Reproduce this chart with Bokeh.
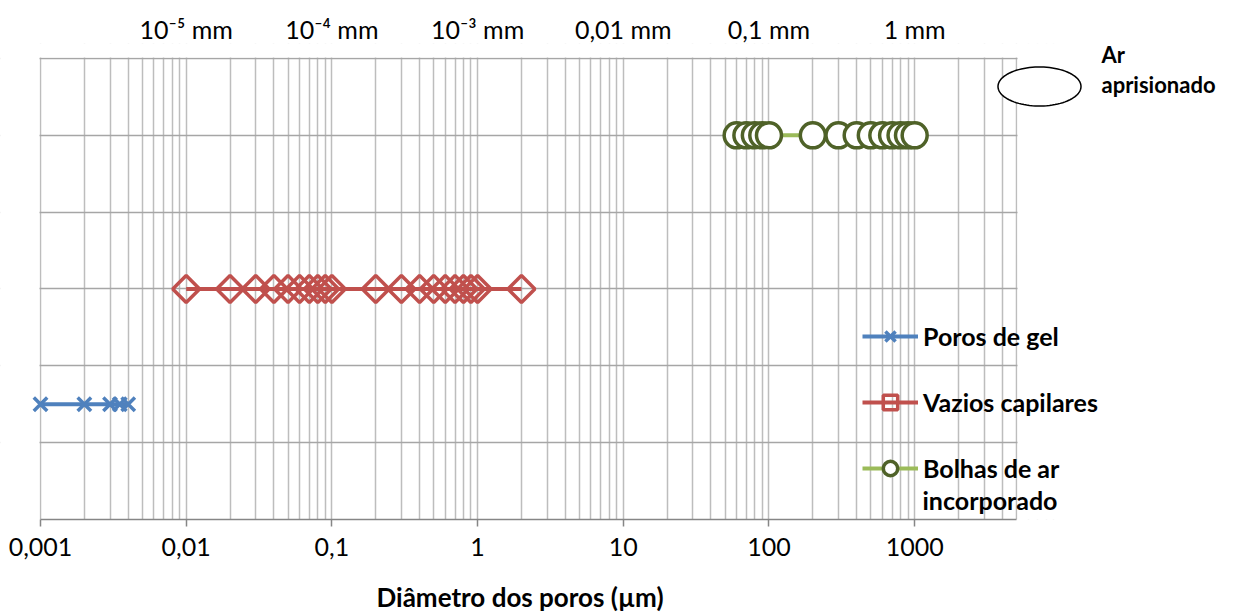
import numpy as np
from bokeh.plotting import figure
from bokeh.models import (LogAxis, FixedTicker, Legend, LegendItem, Label, Title,
                          PolyAnnotation, BoxAnnotation, Range1d)
from bokeh.embed import file_html
from bokeh.resources import INLINE

# ---- data ----
gel_x = [0.001, 0.002, 0.003, 0.0035, 0.004]
gel_y = [1.5, 1.5, 1.5, 1.5, 1.5]

cap_x = [0.01, 0.02, 0.03, 0.04, 0.05, 0.06, 0.07, 0.08, 0.09, 0.1,
         0.2, 0.3, 0.4, 0.5, 0.6, 0.7, 0.8, 0.9, 1, 2]
cap_y = [3] * len(cap_x)

bub_x = [60, 70, 80, 90, 100, 200, 300, 400, 500, 600, 700, 800, 900, 1000]
bub_y = [5] * len(bub_x)

series_names = ["Poros de gel", "Vazios capilares", "Bolhas de ar"]
bottom_ticks = [0.001, 0.01, 0.1, 1, 10, 100, 1000]
bottom_labels = ["0,001", "0,01", "0,1", "1", "10", "100", "1000"]
top_ticks = [0.01, 0.1, 1, 10, 100, 1000]
top_labels = ["10\u207b\u2075 mm", "10\u207b\u2074 mm", "10\u207b\u00b3 mm",
              "0,01 mm", "0,1 mm", "1 mm"]
y_grid = [0, 1, 2, 3, 4, 5, 6]
minor = [m * 10.0 ** e for e in range(-3, 4) for m in range(2, 10)]
X_MIN, X_MAX = 0.001, 5000          # plot-area extent
Y_MIN, Y_MAX = 0, 6

FONT = "Lato"
FS = "25px"
FSB = "26px"
FSL = "25px"

# layout: plot area spans pixels x 40..1016, y 58..520; the drawing frame is
# widened so that markers, legend and notes are not clipped at its edges
DEC = 145.7                                   # pixels per decade
UNIT = 77.0                                   # pixels per y unit
x_start = X_MIN * 10 ** (-40 / DEC)
x_end = X_MAX * 10 ** (217 / DEC)
y_end = Y_MAX + 15 / UNIT

p = figure(width=1233, height=612, x_axis_type="log",
           x_range=Range1d(x_start, x_end), y_range=Range1d(Y_MIN, y_end),
           output_backend="svg", toolbar_location=None,
           min_border_left=0, min_border_right=0,
           min_border_top=43, min_border_bottom=92)
p.outline_line_color = None
p.background_fill_color = "white"
p.border_fill_color = "white"
p.yaxis.visible = False

ax = p.xaxis[0]
ax.bounds = (X_MIN, X_MAX)
ax.ticker = FixedTicker(ticks=bottom_ticks, minor_ticks=minor)
ax.major_label_overrides = {t: l for t, l in zip(bottom_ticks, bottom_labels)}
ax.axis_line_color = "#868686"
ax.axis_line_width = 1.5
ax.major_tick_line_color = "#868686"
ax.major_tick_line_width = 1.5
ax.major_tick_out = 7
ax.major_tick_in = 0
ax.minor_tick_out = 0
ax.minor_tick_in = 0
ax.major_label_standoff = 11
ax.major_label_text_font = FONT
ax.major_label_text_font_size = FS
ax.major_label_text_color = "black"

# invisible spacer axis (one hidden tick, no line, empty label) to push the title down
spacer = LogAxis(ticker=FixedTicker(ticks=[X_MIN], minor_ticks=[]), bounds=(X_MIN, X_MAX),
                 axis_line_color=None, major_tick_out=20, major_tick_in=0,
                 minor_tick_out=0, minor_tick_in=0, major_tick_line_color=None,
                 major_label_overrides={X_MIN: ""}, major_label_standoff=0,
                 major_label_text_font_size="1px")
p.add_layout(spacer, "below")

p.add_layout(Title(text="Diâmetro dos poros (µm)", align="left", offset=376,
                   standoff=0, vertical_align="bottom",
                   text_font=FONT, text_font_style="bold",
                   text_font_size=FSB, text_color="black"), "below")

top = LogAxis(ticker=FixedTicker(ticks=top_ticks, minor_ticks=[]),
              bounds=(X_MIN, X_MAX),
              major_label_overrides={t: l for t, l in zip(top_ticks, top_labels)},
              axis_line_color=None,
              major_tick_out=0, major_tick_in=0, minor_tick_out=0, minor_tick_in=0,
              major_label_standoff=0,
              major_label_text_font=FONT, major_label_text_font_size=FS,
              major_label_text_color="black")
p.add_layout(top, "above")

p.xgrid.grid_line_color = "#BDBDBD"
p.xgrid.grid_line_width = 1.5
p.xgrid.minor_grid_line_color = "#BDBDBD"
p.xgrid.minor_grid_line_width = 1.5
p.ygrid.ticker = FixedTicker(ticks=y_grid)
p.ygrid.grid_line_color = "#A6A6A6"
p.ygrid.grid_line_width = 1.5

# white masks outside the plot area (hide grid lines there)
mask = dict(fill_color="white", fill_alpha=1, line_alpha=0, level="underlay")
p.add_layout(BoxAnnotation(left=x_start / 2, right=X_MIN * 10 ** (-1 / DEC),
                           bottom=-1, top=y_end + 1, **mask))
p.add_layout(BoxAnnotation(left=X_MAX * 10 ** (1 / DEC), right=x_end * 2,
                           bottom=-1, top=y_end + 1, **mask))
p.add_layout(BoxAnnotation(left=x_start / 2, right=x_end * 2,
                           bottom=Y_MAX + 1 / UNIT, top=y_end + 1, **mask))

# series
gl = p.line(gel_x, gel_y, line_color="#4F81BD", line_width=4)
gs = p.scatter(gel_x, gel_y, marker="x", size=19, line_color="#4F81BD", line_width=3.5)

cl = p.line(cap_x, cap_y, line_color="#C0504D", line_width=4)
cs = p.scatter(cap_x, cap_y, marker="square", angle=np.pi / 4, size=19,
               line_color="#C0504D", line_width=3.5, fill_alpha=0)

bl = p.line(bub_x, bub_y, line_color="#9BBB59", line_width=4)
bs = p.scatter(bub_x, bub_y, marker="circle", size=25, line_color="#4F6228",
               line_width=3.5, fill_color="white")

legend = Legend(items=[LegendItem(label=n, renderers=r) for n, r in
                       zip(series_names, [[gl, gs], [cl, cs], [bl, bs]])],
                location=(862, 33), orientation="vertical",
                padding=0, margin=0, spacing=30,
                glyph_width=56, glyph_height=36, label_height=36,
                label_standoff=5, border_line_color=None,
                background_fill_alpha=0,
                label_text_font=FONT, label_text_font_style="bold",
                label_text_font_size=FSL, label_text_color="black")
p.add_layout(legend)

p.add_layout(Label(x=922, y=20, x_units="screen", y_units="screen",
                   text="incorporado", text_baseline="middle",
                   text_font=FONT, text_font_style="bold",
                   text_font_size=FSL, text_color="black"))

# "Ar aprisionado" note
t = np.linspace(0, 2 * np.pi, 91)
p.add_layout(PolyAnnotation(xs=list(1039 + 41.5 * np.cos(t)), ys=list(433 + 19.5 * np.sin(t)),
                            xs_units="screen", ys_units="screen",
                            fill_color="white", fill_alpha=1,
                            line_color="black", line_alpha=1, line_width=1.5))
for yy, txt in [(465, "Ar"), (435, "aprisionado")]:
    p.add_layout(Label(x=1101, y=yy, x_units="screen", y_units="screen",
                       text=txt, text_baseline="middle", text_font=FONT,
                       text_font_style="bold", text_font_size="22px", text_color="black"))

open("out.html", "w").write(file_html(p, INLINE))
